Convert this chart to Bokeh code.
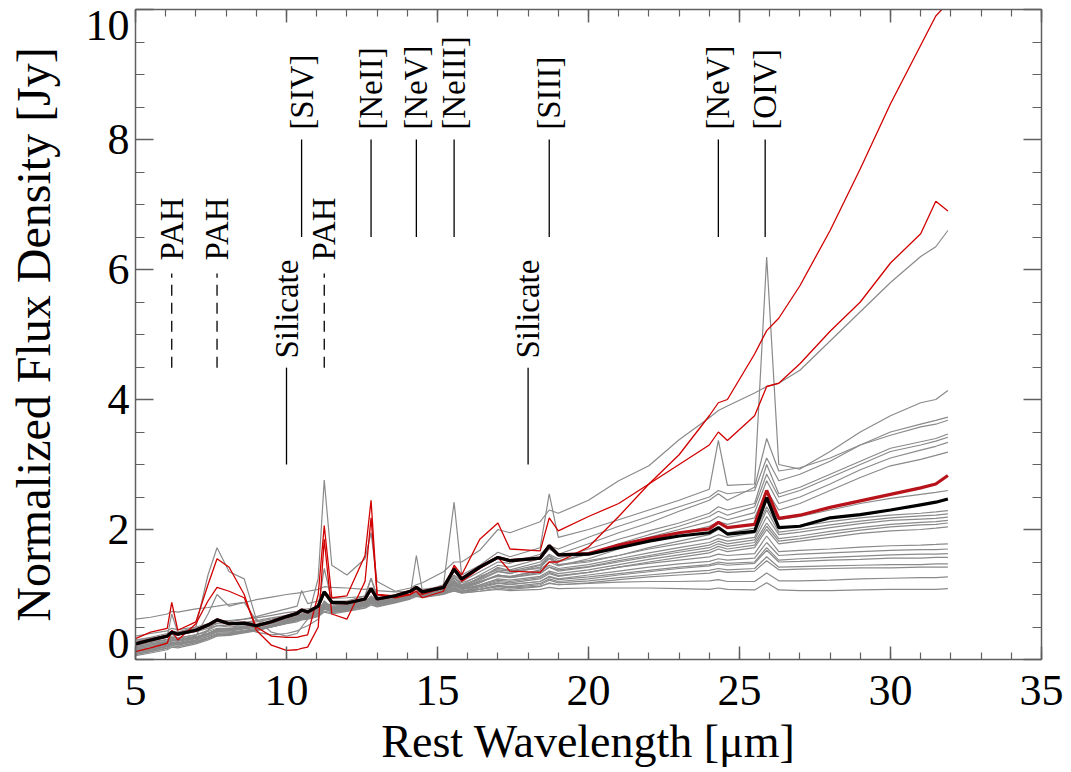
import numpy as np
from bokeh.plotting import figure
from bokeh.models import Range1d, LinearAxis, FixedTicker
from bokeh.core.properties import value
from bokeh.embed import file_html
from bokeh.resources import INLINE

# ---------------- data ----------------
wavelength = [5.0, 5.5, 6.05, 6.2, 6.4, 7.0, 7.4, 7.7, 8.1, 8.6,
              9.0, 9.5, 10.0, 10.35, 10.5, 10.7, 11.05, 11.25, 11.5, 12.0,
              12.6, 12.8, 13.0, 13.6, 14.1, 14.3, 14.5, 15.2, 15.55, 15.8,
              16.4, 17.0, 17.4, 18.4, 18.7, 19.0, 20.0, 21.0, 22.0, 23.0,
              24.0, 24.3, 24.6, 25.5, 25.9, 26.3, 27.0, 28.0, 29.0, 30.0,
              31.0, 31.5, 31.9]

mean_all = [0.24, 0.30, 0.36, 0.42, 0.39, 0.45, 0.53, 0.61, 0.55, 0.56,
            0.52, 0.58, 0.66, 0.71, 0.76, 0.73, 0.82, 1.04, 0.88, 0.87,
            0.93, 1.09, 0.93, 0.98, 1.05, 1.11, 1.04, 1.11, 1.39, 1.24,
            1.42, 1.57, 1.52, 1.56, 1.75, 1.61, 1.62, 1.72, 1.82, 1.90,
            1.95, 2.03, 1.93, 1.97, 2.49, 2.03, 2.05, 2.18, 2.23, 2.30,
            2.38, 2.42, 2.47]

mean_red = [0.24, 0.30, 0.36, 0.42, 0.39, 0.45, 0.53, 0.61, 0.55, 0.56,
            0.52, 0.58, 0.66, 0.71, 0.76, 0.73, 0.82, 1.04, 0.88, 0.87,
            0.93, 1.09, 0.93, 0.98, 1.05, 1.11, 1.04, 1.11, 1.39, 1.24,
            1.42, 1.57, 1.52, 1.56, 1.75, 1.61, 1.63, 1.76, 1.86, 1.95,
            2.01, 2.11, 2.03, 2.08, 2.60, 2.17, 2.22, 2.34, 2.44, 2.54,
            2.64, 2.70, 2.83]

red_1 = [0.32, 0.42, 0.48, 0.88, 0.45, 0.58, 1.15, 1.55, 1.42, 1.0,
         0.45, 0.22, 0.14, 0.15, 0.17, 0.19, 0.5, 1.85, 0.7, 0.62,
         1.2, 2.18, 1.0, 0.95, 1.0, 1.05, 0.95, 1.05, 1.45, 1.3,
         1.85, 2.1, 1.7, 1.67, 2.18, 1.98, 2.2, 2.4, 2.7, 3.15,
         3.75, 3.95, 4.0, 4.7, 5.06, 5.25, 5.75, 6.6, 7.55, 8.55,
         9.45, 9.9, 10.1]

red_2 = [0.12, 0.18, 0.25, 0.45, 0.3, 0.55, 0.9, 1.11, 1.05, 0.95,
         0.5, 0.36, 0.34, 0.34, 0.36, 0.38, 1.0, 2.06, 0.95, 0.98,
         1.6, 2.45, 1.0, 0.98, 1.0, 1.1, 1.0, 1.1, 1.42, 1.2,
         1.4, 1.57, 1.36, 1.34, 1.5, 1.5, 1.73, 2.2, 2.7, 3.0,
         3.3, 3.5, 3.37, 3.75, 4.2, 4.25, 4.55, 5.05, 5.5, 6.1,
         6.55, 7.05, 6.9]

gray_spectra = [
    [0.2, 0.28, 0.35, 0.7, 0.42, 0.5, 1.3, 1.72, 1.35, 1.24,
     0.62, 0.42, 0.36, 0.4, 0.5, 0.62, 1.25, 2.76, 1.45, 1.3,
     1.55, 1.95, 1.2, 1.05, 1.1, 1.15, 1.18, 1.35, 1.5, 1.5,
     1.68, 2.0, 1.95, 2.12, 2.3, 2.25, 2.45, 2.75, 2.98, 3.38,
     3.72, 3.83, 3.9, 4.1, 4.2, 4.25, 4.45, 4.9, 5.35, 5.8,
     6.2, 6.35, 6.6],
    [0.30, 0.34, 0.40, 0.44, 0.42, 0.48, 0.52, 0.56, 0.58, 0.62,
     0.66, 0.72, 0.78, 0.82, 1.06, 0.86, 0.90, 1.05, 0.94, 0.95,
     0.97, 1.25, 0.98, 0.98, 1.0, 1.6, 1.05, 1.15, 2.42, 1.3,
     1.45, 1.65, 1.58, 1.72, 2.55, 1.88, 2.0, 2.15, 2.3, 2.45,
     2.62, 3.37, 2.68, 2.7, 6.19, 3.0, 2.93, 3.2, 3.5, 3.75,
     3.95, 4.0, 4.14],
    [0.18, 0.22, 0.27, 0.30, 0.30, 0.35, 0.40, 0.45, 0.47, 0.50,
     0.53, 0.58, 0.64, 0.68, 0.70, 0.72, 0.76, 0.82, 0.80, 0.84,
     0.90, 0.95, 0.92, 0.96, 1.0, 1.05, 1.04, 1.12, 1.3, 1.2,
     1.35, 1.5, 1.48, 1.62, 1.75, 1.7, 1.88, 2.05, 2.2, 2.35,
     2.5, 2.6, 2.55, 2.6, 3.1, 2.75, 2.85, 3.05, 3.3, 3.5,
     3.62, 3.68, 3.73],
    [0.10, 0.14, 0.20, 0.24, 0.23, 0.28, 0.33, 0.38, 0.40, 0.43,
     0.46, 0.52, 0.58, 0.62, 0.66, 0.66, 0.72, 0.85, 0.78, 0.82,
     0.88, 0.98, 0.90, 0.94, 0.98, 1.02, 1.0, 1.08, 1.25, 1.15,
     1.3, 1.45, 1.42, 1.55, 1.7, 1.62, 1.78, 1.95, 2.1, 2.28,
     2.45, 2.55, 2.45, 2.65, 3.4, 2.9, 2.95, 3.1, 3.3, 3.45,
     3.58, 3.62, 3.68],
    [0.22, 0.26, 0.30, 0.35, 0.33, 0.38, 0.45, 0.52, 0.50, 0.52,
     0.54, 0.58, 0.63, 0.66, 0.70, 0.70, 0.74, 0.90, 0.80, 0.82,
     0.86, 0.96, 0.88, 0.93, 0.98, 1.0, 1.0, 1.06, 1.2, 1.12,
     1.26, 1.4, 1.38, 1.5, 1.62, 1.55, 1.7, 1.85, 1.98, 2.1,
     2.25, 2.35, 2.3, 2.4, 3.0, 2.55, 2.65, 2.85, 3.05, 3.25,
     3.35, 3.4, 3.47],
    [0.14, 0.18, 0.24, 0.27, 0.26, 0.32, 0.38, 0.44, 0.44, 0.47,
     0.50, 0.55, 0.60, 0.64, 0.67, 0.68, 0.72, 0.80, 0.78, 0.81,
     0.86, 0.92, 0.88, 0.92, 0.97, 1.0, 0.99, 1.05, 1.18, 1.1,
     1.22, 1.35, 1.32, 1.45, 1.56, 1.5, 1.62, 1.78, 1.92, 2.05,
     2.2, 2.28, 2.22, 2.35, 2.85, 2.5, 2.6, 2.8, 3.0, 3.2,
     3.3, 3.36, 3.42],
    [0.62, 0.65, 0.70, 0.74, 0.73, 0.78, 0.8, 0.82, 0.85, 0.88,
     0.92, 0.96, 1.0, 1.02, 1.03, 1.05, 1.08, 1.12, 1.11, 1.1,
     1.08, 1.1, 1.06, 1.04, 1.05, 1.07, 1.08, 1.12, 1.25, 1.18,
     1.28, 1.38, 1.36, 1.46, 1.6, 1.52, 1.62, 1.76, 1.88, 2.0,
     2.12, 2.2, 2.15, 2.26, 2.75, 2.4, 2.5, 2.7, 2.92, 3.1,
     3.22, 3.28, 3.34],
    [0.08, 0.12, 0.18, 0.22, 0.2, 0.26, 0.32, 0.38, 0.38, 0.42,
     0.45, 0.50, 0.56, 0.60, 0.63, 0.64, 0.68, 0.78, 0.74, 0.78,
     0.84, 0.92, 0.86, 0.9, 0.96, 1.0, 0.98, 1.04, 1.16, 1.08,
     1.18, 1.3, 1.27, 1.38, 1.5, 1.44, 1.55, 1.7, 1.82, 1.94,
     2.05, 2.12, 2.08, 2.18, 2.6, 2.3, 2.4, 2.6, 2.8, 2.98,
     3.08, 3.14, 3.19],
    [0.16, 0.2, 0.26, 0.4, 0.3, 0.36, 0.7, 1.0, 0.82, 0.88,
     0.6, 0.55, 0.6, 0.64, 0.7, 0.7, 0.8, 1.4, 0.9, 0.9,
     0.98, 1.25, 0.95, 0.96, 1.0, 1.03, 1.02, 1.06, 1.28, 1.14,
     1.25, 1.42, 1.36, 1.4, 1.6, 1.45, 1.5, 1.6, 1.72, 1.82,
     1.92, 2.0, 1.95, 2.02, 2.5, 2.15, 2.2, 2.3, 2.4, 2.48,
     2.54, 2.57, 2.6],
    [0.2, 0.24, 0.28, 0.32, 0.3, 0.34, 0.4, 0.46, 0.46, 0.49,
     0.52, 0.56, 0.61, 0.64, 0.67, 0.68, 0.72, 0.84, 0.78, 0.8,
     0.85, 0.94, 0.87, 0.92, 0.98, 1.02, 1.0, 1.06, 1.22, 1.12,
     1.24, 1.36, 1.33, 1.42, 1.55, 1.46, 1.52, 1.6, 1.7, 1.78,
     1.86, 1.92, 1.88, 1.95, 2.35, 2.02, 2.05, 2.12, 2.18, 2.22,
     2.25, 2.27, 2.29],
    [0.12, 0.16, 0.21, 0.25, 0.24, 0.3, 0.36, 0.42, 0.42, 0.45,
     0.48, 0.53, 0.58, 0.62, 0.65, 0.66, 0.7, 0.8, 0.76, 0.79,
     0.84, 0.9, 0.86, 0.91, 0.96, 1.0, 0.98, 1.05, 1.2, 1.1,
     1.2, 1.3, 1.28, 1.36, 1.45, 1.4, 1.46, 1.55, 1.64, 1.72,
     1.8, 1.86, 1.82, 1.88, 2.3, 1.96, 2.0, 2.07, 2.13, 2.18,
     2.21, 2.22, 2.24],
    [0.3, 0.33, 0.37, 0.42, 0.4, 0.45, 0.5, 0.55, 0.55, 0.57,
     0.6, 0.64, 0.68, 0.7, 0.73, 0.74, 0.77, 0.84, 0.82, 0.84,
     0.88, 0.94, 0.9, 0.93, 0.98, 1.02, 1.01, 1.07, 1.2, 1.12,
     1.2, 1.28, 1.26, 1.34, 1.42, 1.38, 1.43, 1.52, 1.6, 1.68,
     1.76, 1.82, 1.78, 1.84, 2.2, 1.92, 1.96, 2.03, 2.09, 2.14,
     2.16, 2.17, 2.19],
    [0.1, 0.14, 0.2, 0.26, 0.22, 0.3, 0.45, 0.6, 0.55, 0.5,
     0.42, 0.38, 0.4, 0.44, 0.48, 0.52, 0.62, 0.9, 0.72, 0.76,
     0.82, 0.95, 0.84, 0.9, 0.96, 1.0, 0.98, 1.05, 1.18, 1.1,
     1.18, 1.3, 1.26, 1.32, 1.42, 1.36, 1.42, 1.5, 1.58, 1.65,
     1.72, 1.78, 1.74, 1.8, 2.1, 1.86, 1.9, 1.97, 2.03, 2.08,
     2.11, 2.12, 2.14],
    [0.18, 0.22, 0.26, 0.3, 0.29, 0.34, 0.4, 0.46, 0.45, 0.48,
     0.5, 0.55, 0.6, 0.63, 0.66, 0.67, 0.71, 0.8, 0.76, 0.79,
     0.84, 0.9, 0.86, 0.91, 0.97, 1.01, 0.99, 1.04, 1.15, 1.08,
     1.15, 1.24, 1.22, 1.28, 1.36, 1.32, 1.38, 1.46, 1.54, 1.61,
     1.68, 1.74, 1.7, 1.76, 2.05, 1.82, 1.86, 1.93, 1.99, 2.04,
     2.07, 2.08, 2.10],
    [0.06, 0.1, 0.15, 0.19, 0.18, 0.24, 0.3, 0.36, 0.37, 0.41,
     0.44, 0.5, 0.56, 0.6, 0.63, 0.64, 0.68, 0.78, 0.74, 0.77,
     0.82, 0.88, 0.84, 0.89, 0.95, 0.99, 0.97, 1.02, 1.12, 1.05,
     1.12, 1.2, 1.18, 1.24, 1.32, 1.28, 1.34, 1.42, 1.5, 1.57,
     1.64, 1.7, 1.66, 1.72, 2.0, 1.78, 1.82, 1.88, 1.94, 1.98,
     2.0, 2.02, 2.04],
    [0.24, 0.27, 0.31, 0.34, 0.33, 0.38, 0.43, 0.48, 0.48, 0.51,
     0.54, 0.58, 0.63, 0.66, 0.69, 0.7, 0.74, 0.82, 0.79, 0.82,
     0.86, 0.92, 0.88, 0.92, 0.98, 1.01, 1.0, 1.05, 1.15, 1.08,
     1.14, 1.22, 1.2, 1.26, 1.34, 1.29, 1.34, 1.42, 1.48, 1.53,
     1.58, 1.62, 1.6, 1.63, 1.9, 1.66, 1.68, 1.7, 1.73, 1.75,
     1.76, 1.77, 1.78],
    [0.14, 0.18, 0.22, 0.26, 0.25, 0.3, 0.35, 0.4, 0.41, 0.44,
     0.47, 0.52, 0.58, 0.61, 0.64, 0.65, 0.69, 0.77, 0.74, 0.77,
     0.82, 0.87, 0.84, 0.89, 0.95, 0.99, 0.97, 1.02, 1.1, 1.05,
     1.1, 1.17, 1.15, 1.2, 1.28, 1.24, 1.3, 1.36, 1.42, 1.47,
     1.51, 1.55, 1.53, 1.56, 1.8, 1.6, 1.62, 1.64, 1.66, 1.68,
     1.69, 1.69, 1.70],
    [0.36, 0.4, 0.44, 0.48, 0.46, 0.5, 0.55, 0.6, 0.6, 0.62,
     0.64, 0.68, 0.72, 0.74, 0.77, 0.78, 0.8, 0.86, 0.84, 0.86,
     0.89, 0.94, 0.91, 0.94, 0.99, 1.02, 1.01, 1.05, 1.13, 1.08,
     1.12, 1.18, 1.16, 1.2, 1.27, 1.23, 1.27, 1.32, 1.37, 1.42,
     1.46, 1.5, 1.48, 1.5, 1.72, 1.53, 1.55, 1.57, 1.59, 1.61,
     1.62, 1.62, 1.63],
    [0.08, 0.12, 0.17, 0.21, 0.2, 0.26, 0.32, 0.38, 0.38, 0.42,
     0.45, 0.5, 0.56, 0.6, 0.62, 0.63, 0.67, 0.74, 0.72, 0.75,
     0.8, 0.86, 0.82, 0.88, 0.94, 0.98, 0.96, 1.01, 1.08, 1.03,
     1.08, 1.14, 1.12, 1.17, 1.24, 1.2, 1.24, 1.3, 1.35, 1.4,
     1.44, 1.47, 1.45, 1.48, 1.68, 1.5, 1.51, 1.53, 1.54, 1.56,
     1.56, 1.57, 1.57],
    [0.2, 0.24, 0.28, 0.32, 0.31, 0.35, 0.4, 0.46, 0.46, 0.49,
     0.52, 0.56, 0.61, 0.64, 0.67, 0.68, 0.72, 0.8, 0.77, 0.8,
     0.84, 0.9, 0.87, 0.91, 0.97, 1.0, 0.99, 1.03, 1.1, 1.05,
     1.08, 1.13, 1.11, 1.15, 1.22, 1.18, 1.21, 1.26, 1.3, 1.34,
     1.37, 1.4, 1.38, 1.4, 1.58, 1.42, 1.43, 1.44, 1.45, 1.46,
     1.46, 1.47, 1.47],
    [0.12, 0.16, 0.2, 0.24, 0.23, 0.28, 0.33, 0.38, 0.39, 0.42,
     0.45, 0.5, 0.55, 0.58, 0.61, 0.62, 0.66, 0.73, 0.7, 0.74,
     0.79, 0.84, 0.81, 0.87, 0.93, 0.97, 0.95, 1.0, 1.06, 1.02,
     1.05, 1.1, 1.08, 1.12, 1.18, 1.15, 1.18, 1.23, 1.27, 1.3,
     1.33, 1.36, 1.34, 1.36, 1.52, 1.38, 1.39, 1.4, 1.41, 1.41,
     1.42, 1.42, 1.42],
    [0.28, 0.32, 0.36, 0.4, 0.38, 0.43, 0.48, 0.52, 0.53, 0.56,
     0.58, 0.62, 0.67, 0.7, 0.73, 0.74, 0.77, 0.83, 0.81, 0.83,
     0.87, 0.91, 0.89, 0.93, 0.98, 1.01, 1.0, 1.04, 1.08, 1.05,
     1.08, 1.12, 1.1, 1.13, 1.17, 1.15, 1.17, 1.19, 1.2, 1.2,
     1.21, 1.23, 1.2, 1.2, 1.33, 1.21, 1.21, 1.22, 1.24, 1.25,
     1.26, 1.26, 1.27],
    [0.16, 0.2, 0.25, 0.29, 0.28, 0.33, 0.38, 0.43, 0.44, 0.48,
     0.51, 0.56, 0.61, 0.65, 0.68, 0.69, 0.73, 0.79, 0.77, 0.8,
     0.85, 0.89, 0.87, 0.92, 0.97, 1.0, 0.99, 1.02, 1.05, 1.03,
     1.05, 1.08, 1.06, 1.08, 1.11, 1.09, 1.1, 1.1, 1.1, 1.09,
     1.08, 1.1, 1.08, 1.07, 1.18, 1.07, 1.06, 1.06, 1.07, 1.08,
     1.08, 1.08, 1.09],
]

# feature annotations
ion_names = ["[SIV]", "[NeII]", "[NeV]", "[NeIII]", "[SIII]", "[NeV]", "[OIV]"]
ion_wl = [10.5, 12.8, 14.3, 15.55, 18.7, 24.3, 25.85]
pah_names = ["PAH", "PAH", "PAH"]
pah_wl = [6.2, 7.7, 11.25]
sil_names = ["Silicate", "Silicate"]
sil_wl = [10.0, 18.0]

ion_line = (6.5, 8.0, 8.15)   # line bottom, line top, label start
pah_line = (4.49, 5.94, 6.14)
sil_line = (3.0, 4.49, 4.63)

x_ticks = [5, 10, 15, 20, 25, 30, 35]
x_minor = [float(v) for v in range(5, 36)]
y_ticks = [0, 2, 4, 6, 8, 10]
y_minor = [0.5 * k for k in range(0, 21)]
y_tick_labels = ["0", "2", "4", "6", "8", "10"]
# IDL nudges the end labels inwards so they stay inside the page
y_label_pos = [0.25, 2, 4, 6, 8, 9.76]

n = len(wavelength)
for nm, s in [("mean_all", mean_all), ("mean_red", mean_red), ("red_1", red_1), ("red_2", red_2)] + \
        [("gray%d" % i, g) for i, g in enumerate(gray_spectra)]:
    if len(s) != n:
        raise ValueError("%s has %d values, expected %d" % (nm, len(s), n))

# ---------------- figure ----------------
FONT = "Liberation Serif"
AX = "#606060"

p = figure(width=1071, height=772, output_backend="svg", toolbar_location=None,
           x_range=Range1d(5, 35), y_range=Range1d(0, 10),
           min_border_left=135, min_border_right=30, min_border_top=9, min_border_bottom=113,
           x_axis_label="Rest Wavelength [μm]")
p.grid.visible = False
p.outline_line_color = AX
p.background_fill_color = "white"
p.border_fill_color = "white"

def style_axis(ax, ticks, minor, major_len, minor_len, show_labels):
    ax.ticker = FixedTicker(ticks=ticks, minor_ticks=minor)
    ax.axis_line_color = AX
    ax.axis_line_width = 1.5
    ax.major_tick_line_color = AX
    ax.minor_tick_line_color = AX
    ax.major_tick_line_width = 1.5
    ax.minor_tick_line_width = 1.2
    ax.major_tick_in = major_len
    ax.major_tick_out = 0
    ax.minor_tick_in = minor_len
    ax.minor_tick_out = 0
    if show_labels:
        ax.major_label_text_font = FONT
        ax.major_label_text_font_size = "44px"
        ax.major_label_text_color = "black"
        ax.axis_label_text_font = FONT
        ax.axis_label_text_font_style = "normal"
        ax.axis_label_text_color = "black"
    else:
        ax.major_label_overrides = {t: "" for t in ticks}
        ax.major_label_text_font_size = "1px"
        ax.major_label_standoff = 0

xa = p.xaxis[0]
ya = p.yaxis[0]
style_axis(xa, x_ticks, x_minor, 13, 7, True)
xa.axis_label_text_font_size = "46px"
xa.major_label_standoff = 16
xa.axis_label_standoff = 8
style_axis(ya, y_ticks, y_minor, 18, 9, False)

# outer left axis carries the tick labels and the title
ylab_ax = LinearAxis(axis_label="Normalized Flux Density [Jy]")
ylab_ax.ticker = FixedTicker(ticks=y_label_pos, minor_ticks=[])
ylab_ax.major_label_overrides = {pos: lab for pos, lab in zip(y_label_pos, y_tick_labels)}
ylab_ax.axis_line_color = None
ylab_ax.major_tick_line_color = None
ylab_ax.minor_tick_line_color = None
ylab_ax.major_tick_in = 0
ylab_ax.major_tick_out = 0
ylab_ax.major_label_standoff = 6
ylab_ax.major_label_text_font = FONT
ylab_ax.major_label_text_font_size = "44px"
ylab_ax.major_label_text_color = "black"
ylab_ax.axis_label_text_font = FONT
ylab_ax.axis_label_text_font_size = "48px"
ylab_ax.axis_label_text_font_style = "normal"
ylab_ax.axis_label_text_color = "black"
ylab_ax.axis_label_standoff = 23
p.add_layout(ylab_ax, "left")

top_ax = LinearAxis()
right_ax = LinearAxis()
style_axis(top_ax, x_ticks, x_minor, 13, 7, False)
style_axis(right_ax, y_ticks, y_minor, 18, 9, False)
p.add_layout(top_ax, "above")
p.add_layout(right_ax, "right")

# spectra
p.multi_line(xs=[wavelength] * len(gray_spectra), ys=gray_spectra,
             line_color="#8a8a8a", line_width=1.2)
for s in [red_2, red_1]:
    p.line(wavelength, s, line_color="#d10000", line_width=1.3)
p.line(wavelength, mean_red, line_color="#b8121a", line_width=3.2)
p.line(wavelength, mean_all, line_color="black", line_width=3.2)

# annotation lines and labels
def annotate(names, wls, spec, dash):
    y0, y1, ylab = spec
    p.segment(x0=wls, y0=[y0] * len(wls), x1=wls, y1=[y1] * len(wls),
              line_color="black", line_width=1.3, line_dash=dash)
    p.text(x=wls, y=[ylab] * len(wls), text=names, angle=np.pi / 2,
           text_align="left", text_baseline="middle",
           text_font=value(FONT), text_font_size="33px", text_color="black")

annotate(ion_names, ion_wl, ion_line, "solid")
annotate(pah_names, pah_wl, pah_line, "11 7")
annotate(sil_names, sil_wl, sil_line, "solid")

open("out.html", "w").write(file_html(p, INLINE))
